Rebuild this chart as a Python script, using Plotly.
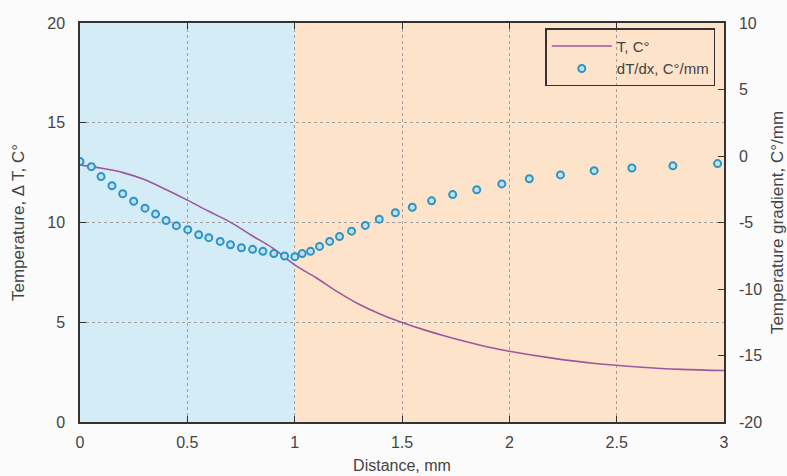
import plotly.graph_objects as go

# ---- data ----
dist_T = [0, 0.05, 0.1, 0.2, 0.3, 0.4, 0.5, 0.6, 0.7, 0.8, 0.9, 1.0, 1.1, 1.2,
          1.3, 1.4, 1.5, 1.6, 1.7, 1.8, 1.9, 2.0, 2.2, 2.4, 2.6, 2.8, 3.0]
temp_T = [12.88, 12.8, 12.72, 12.5, 12.15, 11.65, 11.12, 10.56, 10.02, 9.35, 8.7,
          7.88, 7.23, 6.52, 5.9, 5.4, 4.99, 4.63, 4.31, 4.02, 3.76, 3.55, 3.2,
          2.93, 2.76, 2.64, 2.58]

dist_g = [0.0, 0.053, 0.098, 0.149, 0.199, 0.25, 0.303, 0.352, 0.401, 0.449,
          0.502, 0.553, 0.6, 0.653, 0.701, 0.752, 0.804, 0.852, 0.903, 0.953,
          1.001, 1.035, 1.074, 1.116, 1.163, 1.209, 1.265, 1.329, 1.394, 1.469,
          1.548, 1.638, 1.736, 1.848, 1.965, 2.093, 2.238, 2.395, 2.571, 2.762,
          2.97]
grad_g = [-0.42, -0.8, -1.55, -2.24, -2.84, -3.4, -3.92, -4.37, -4.85, -5.24,
          -5.54, -5.92, -6.14, -6.42, -6.67, -6.9, -7.02, -7.17, -7.34, -7.52,
          -7.57, -7.34, -7.17, -6.8, -6.42, -6.05, -5.65, -5.22, -4.75, -4.27,
          -3.85, -3.37, -2.9, -2.54, -2.1, -1.71, -1.42, -1.1, -0.9, -0.74,
          -0.57]

region_edges = [0, 1, 3]
region_colors = ["#d4ecf5", "#fde3c9"]

x_ticks = [0, 0.5, 1, 1.5, 2, 2.5, 3]
x_tick_text = ["0", "0.5", "1", "1.5", "2", "2.5", "3"]
y_ticks = [0, 5, 10, 15, 20]
y2_ticks = [-20, -15, -10, -5, 0, 5, 10]
y2_tick_text = ["-20", "-15", "-10", "-5", "0", "5", "10"]

FONT = "Liberation Sans, Arial, sans-serif"
TXT = "#444444"
AX = "#333333"

fig = go.Figure()

for i, col in enumerate(region_colors):
    fig.add_vrect(x0=region_edges[i], x1=region_edges[i + 1], fillcolor=col,
                  opacity=1, line_width=0, layer="below")

fig.add_trace(go.Scatter(
    x=dist_T, y=temp_T, mode="lines", name="T, C°",
    line=dict(color="#9e56a0", width=1.6, shape="spline"), yaxis="y"))

fig.add_trace(go.Scatter(
    x=dist_g, y=grad_g, mode="markers", name="dT/dx, C°/mm",
    marker=dict(symbol="circle", size=7, color="#bfe2ee",
                line=dict(color="#2f93c4", width=2)), yaxis="y2"))

axis_common = dict(showline=True, linecolor=AX, linewidth=1.5, ticks="inside",
                   ticklen=6, tickcolor=AX, zeroline=False, automargin=False,
                   tickfont=dict(family=FONT, size=16, color=TXT))

fig.update_layout(
    width=787, height=476,
    margin=dict(l=80, r=63, t=23, b=54),
    paper_bgcolor="#fbfbfb", plot_bgcolor="#fbfbfb",
    font=dict(family=FONT, size=16, color=TXT),
    showlegend=True,
    legend=dict(x=0.9865, y=0.9867, xanchor="right", yanchor="top",
                bgcolor="rgba(0,0,0,0)", bordercolor=AX, borderwidth=1.5,
                font=dict(family=FONT, size=15, color=TXT),
                itemwidth=60, tracegroupgap=0),
    xaxis=dict(range=[0, 3], tickvals=x_ticks, ticktext=x_tick_text,
               mirror="ticks", showgrid=True, gridcolor="#a0a0a0",
               griddash="dot", gridwidth=1,
               title=dict(text="Distance, mm", standoff=10,
                          font=dict(family=FONT, size=16, color=TXT)),
               ticklabelstandoff=5, **axis_common),
    yaxis=dict(range=[0, 20], tickvals=y_ticks, showgrid=True,
               gridcolor="#a0a0a0", griddash="dot", gridwidth=1,
               title=dict(text="Temperature, Δ T, C°", standoff=18,
                          font=dict(family=FONT, size=17, color=TXT)),
               ticklabelstandoff=10, **axis_common),
    yaxis2=dict(range=[-20, 10], tickvals=y2_ticks, ticktext=y2_tick_text,
                overlaying="y", side="right", showgrid=False,
                title=dict(text="Temperature gradient, C°/mm", standoff=10,
                           font=dict(family=FONT, size=17, color=TXT)),
                ticklabelstandoff=10, **axis_common),
)

fig.write_html("out.html",
               config={"displayModeBar": False},
               post_script="document.body.style.margin='0';"
                           "document.body.style.background='#fbfbfb';")
